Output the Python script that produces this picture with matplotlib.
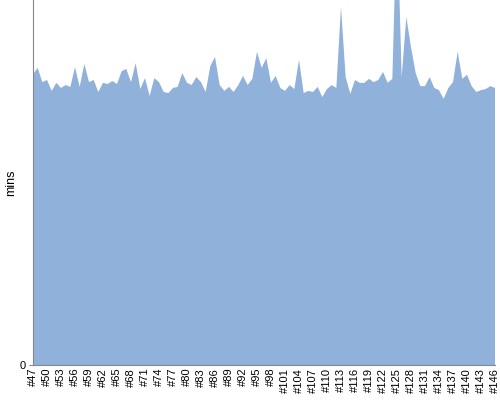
import matplotlib
matplotlib.use("Agg")
import matplotlib.pyplot as plt

builds = list(range(47, 147))
labels = ["#%d" % b for b in builds]
mins = [79.7, 81.4, 77.5, 78.1, 75.1, 77.3, 75.9, 76.7, 76.2, 81.6,
        76.2, 82.5, 77.5, 78.1, 74.8, 77.3, 77.0, 77.8, 77.0, 80.5,
        81.1, 77.5, 82.7, 75.6, 78.6, 73.7, 78.6, 77.5, 74.8, 74.5,
        75.9, 76.2, 80.0, 77.3, 76.7, 78.9, 77.5, 74.8, 81.9, 84.4,
        76.7, 75.1, 76.2, 74.8, 76.7, 79.2, 76.7, 78.4, 85.8, 81.4,
        84.1, 77.3, 79.2, 75.9, 75.1, 76.7, 75.6, 83.6, 74.5, 75.1,
        74.8, 76.2, 73.4, 75.6, 76.7, 75.9, 98.1, 78.9, 74.3, 78.1,
        77.3, 77.3, 78.4, 77.5, 78.1, 80.3, 77.3, 78.4, 125.0, 78.9,
        95.3, 87.1, 80.0, 76.4, 76.4, 78.9, 75.9, 75.3, 72.9, 75.9,
        77.5, 85.8, 78.4, 79.5, 76.4, 74.8, 75.3, 75.6, 76.4, 75.9]
ymax = 100

plt.rcParams['font.family'] = ['Liberation Sans', 'DejaVu Sans']
fig = plt.figure(figsize=(5, 4), dpi=100)
ax = fig.add_axes([0.066, 0.0875, 0.924, 0.9125])
x = list(range(len(builds)))
ax.fill_between(x, 0, mins, color='#8fb1da', linewidth=0)
ax.set_xlim(0, len(builds) - 1)
ax.set_ylim(0, ymax)
ax.set_yticks([0])
ax.set_yticklabels(['0'], fontsize=8)
ax.set_xticks(x[::3])
ax.set_xticklabels(labels[::3], rotation=90, fontsize=8)
ax.tick_params(axis='x', length=0, pad=2)
ax.tick_params(axis='y', length=3, pad=2, color='#888888')
for s in ['top', 'right']:
    ax.spines[s].set_visible(False)
for s in ['left', 'bottom']:
    ax.spines[s].set_color('#888888')
ax.set_ylabel('mins', fontsize=9)
ax.yaxis.set_label_coords(-0.035, 0.5)
fig.savefig('out.png', dpi=100)
